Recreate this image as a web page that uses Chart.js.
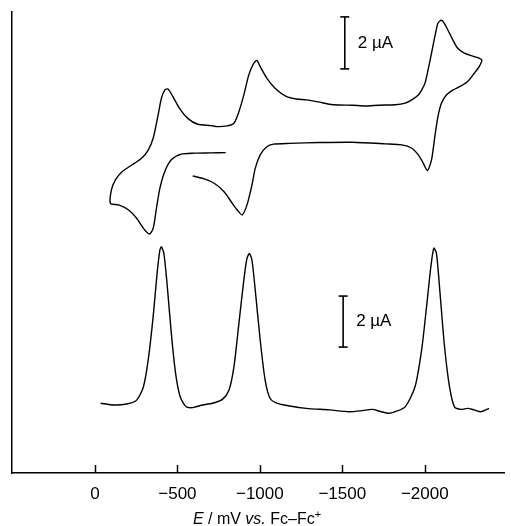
<!DOCTYPE html>
<html>
<head>
<meta charset="utf-8">
<script src="https://cdn.jsdelivr.net/npm/chart.js@4.4.1/dist/chart.umd.min.js"></script>
<style>
  html, body { margin: 0; padding: 0; background: #ffffff; }
  #wrap { width: 511px; height: 526px; }
</style>
</head>
<body>
<div id="wrap"><canvas id="c" width="511" height="526"></canvas></div>
<script>
// Potential axis ticks (mV vs. Fc–Fc+)
const tickValues = [0, -500, -1000, -1500, -2000];

// Cyclic voltammogram (scan path order): potential (mV) and current (µA, arbitrary offset)
const cvE = [-593, -663, -723, -783, -833, -863, -893, -922, -952, -972, -1002, -1042, -1082, -1182, -1360, -1562, -1761, -1861, -1921, -1961, -1991, -2016, -2041, -2061, -2080, -2101, -2131, -2170, -2220, -2260, -2300, -2330, -2346,
  -2300, -2240, -2200, -2170, -2140, -2114, -2099, -2080, -2061, -2041, -2020, -2001, -1981, -1961, -1921, -1881, -1821, -1721, -1641, -1562, -1481, -1421, -1362, -1282, -1222, -1162, -1092, -1042, -1002, -982, -963, -933, -903, -873, -843, -803, -743, -703, -623, -563, -513, -473, -443, -423, -403, -383, -353, -323, -283, -223, -164, -124, -100, -94,
  -144, -204, -253, -294, -330, -353, -373, -394, -423, -463, -523, -603, -703, -793];
const cvI = [11.53, 11.42, 11.25, 10.92, 10.47, 10.21, 10.02, 10.41, 11.18, 11.83, 12.35, 12.67, 12.77, 12.80, 12.83, 12.84, 12.78, 12.74, 12.61, 12.35, 12.03, 11.74, 12.16, 13.06, 13.84, 14.36, 14.68, 14.87, 15.03, 15.20, 15.52, 15.78, 16.04,
  16.17, 16.30, 16.49, 16.82, 17.20, 17.51, 17.58, 17.46, 16.94, 16.30, 15.65, 15.13, 14.87, 14.68, 14.49, 14.36, 14.30, 14.28, 14.25, 14.28, 14.29, 14.32, 14.40, 14.49, 14.52, 14.61, 14.94, 15.33, 15.78, 16.02, 15.91, 15.46, 14.68, 14.03, 13.58, 13.48, 13.45, 13.49, 13.54, 13.77, 14.16, 14.61, 14.91, 14.87, 14.55, 13.90, 13.00, 12.54, 12.22, 11.96, 11.70, 11.38, 10.99, 10.47,
  10.41, 10.21, 9.89, 9.50, 9.28, 9.50, 10.28, 11.06, 11.70, 12.16, 12.38, 12.42, 12.43, 12.44];

// Differential pulse voltammogram
const dpvE = [-34, -114, -193, -253, -294, -323, -353, -377, -394, -403, -418, -437, -463, -489, -517, -553, -593, -653, -713, -773, -813, -843, -873, -903, -922, -937, -952, -972, -1002, -1032, -1062, -1102, -1182, -1282, -1421, -1541, -1621, -1681, -1731, -1781, -1821, -1881, -1941, -1981, -2011, -2037, -2055, -2071, -2091, -2120, -2150, -2180, -2220, -2260, -2300, -2340, -2390];
const dpvI = [2.71, 2.64, 2.68, 2.83, 3.35, 4.39, 6.07, 7.76, 8.66, 8.78, 8.53, 7.37, 5.43, 3.87, 2.96, 2.57, 2.54, 2.64, 2.71, 2.86, 3.22, 4.13, 5.81, 7.50, 8.34, 8.52, 8.27, 7.11, 5.17, 3.61, 2.90, 2.71, 2.60, 2.51, 2.45, 2.38, 2.42, 2.47, 2.39, 2.32, 2.38, 2.57, 3.35, 4.78, 6.46, 8.01, 8.73, 8.53, 7.11, 4.90, 3.35, 2.57, 2.47, 2.51, 2.45, 2.38, 2.51];

// 2 µA scale bars
const barCvE = [-1515, -1515];
const barCvI = [15.69, 17.71];
const barDpvE = [-1505, -1505];
const barDpvI = [4.89, 6.87];
const barLabel = '2 µA';

const toXY = (xs, ys) => xs.map((x, i) => ({ x: x, y: ys[i] }));
const fmt = v => (v < 0 ? '\u2212' + Math.abs(v) : String(v));

const FONT = '"Liberation Sans", Arial, sans-serif';

const overlay = {
  id: 'overlay',
  afterDraw(chart) {
    const ctx = chart.ctx;
    const xs = chart.scales.x, ys = chart.scales.y;
    const area = chart.chartArea;
    ctx.save();
    // inward tick marks
    ctx.strokeStyle = '#000';
    ctx.lineWidth = 1.5;
    tickValues.forEach(v => {
      const px = Math.round(xs.getPixelForValue(v)) + 0.5;
      ctx.beginPath();
      ctx.moveTo(px, area.bottom);
      ctx.lineTo(px, area.bottom - 8);
      ctx.stroke();
    });
    // scale bar labels
    ctx.fillStyle = '#000';
    ctx.font = '17px ' + FONT;
    ctx.textBaseline = 'middle';
    ctx.textAlign = 'left';
    [[barCvE, barCvI], [barDpvE, barDpvI]].forEach(([e, i]) => {
      const px = xs.getPixelForValue(e[0]);
      const py = (ys.getPixelForValue(i[0]) + ys.getPixelForValue(i[1])) / 2;
      ctx.fillText(barLabel, px + 13, py);
    });
    // axis title with mixed styles
    const parts = [
      { t: 'E', f: 'italic 16px ' + FONT },
      { t: ' / mV ', f: '16px ' + FONT },
      { t: 'vs.', f: 'italic 16px ' + FONT },
      { t: ' Fc\u2013Fc', f: '16px ' + FONT },
      { t: '+', f: '11px ' + FONT, sup: true }
    ];
    let total = 0;
    parts.forEach(p => { ctx.font = p.f; p.w = ctx.measureText(p.t).width; total += p.w; });
    let x = 257 - total / 2;
    const base = 524;
    ctx.textBaseline = 'alphabetic';
    parts.forEach(p => {
      ctx.font = p.f;
      ctx.fillText(p.t, x, p.sup ? base - 6 : base);
      x += p.w;
    });
    ctx.restore();
  }
};

const lineDs = (data) => ({
  data: data,
  borderColor: '#000',
  borderWidth: 1.4,
  pointRadius: 0,
  tension: 0.25,
  fill: false
});
const barDs = (data) => ({
  data: data,
  borderColor: '#000',
  borderWidth: 1.6,
  pointStyle: 'line',
  pointRadius: 4.5,
  pointBorderWidth: 1.6,
  pointBorderColor: '#000',
  tension: 0,
  fill: false
});

new Chart(document.getElementById('c'), {
  type: 'line',
  data: {
    datasets: [
      lineDs(toXY(cvE, cvI)),
      lineDs(toXY(dpvE, dpvI)),
      barDs(toXY(barCvE, barCvI)),
      barDs(toXY(barDpvE, barDpvI))
    ]
  },
  options: {
    responsive: false,
    devicePixelRatio: 1,
    animation: false,
    layout: { padding: { left: 12, top: 12, right: 0, bottom: 0 } },
    plugins: { legend: { display: false }, tooltip: { enabled: false } },
    scales: {
      x: {
        type: 'linear',
        reverse: true,
        min: -2486,
        max: 503,
        afterBuildTicks: s => { s.ticks = tickValues.map(v => ({ value: v })); },
        afterFit: s => { s.height = 53; },
        grid: { display: false, drawTicks: false },
        border: { display: true, color: '#000', width: 1.5 },
        ticks: {
          color: '#000',
          font: { family: FONT, size: 17 },
          padding: 11,
          maxRotation: 0,
          autoSkip: false,
          callback: v => fmt(v)
        }
      },
      y: {
        type: 'linear',
        min: 0,
        max: 17.9,
        afterFit: s => { s.width = 0; },
        grid: { display: false, drawTicks: false },
        border: { display: true, color: '#000', width: 1.5 },
        ticks: { display: false }
      }
    }
  },
  plugins: [overlay]
});
</script>
</body>
</html>
